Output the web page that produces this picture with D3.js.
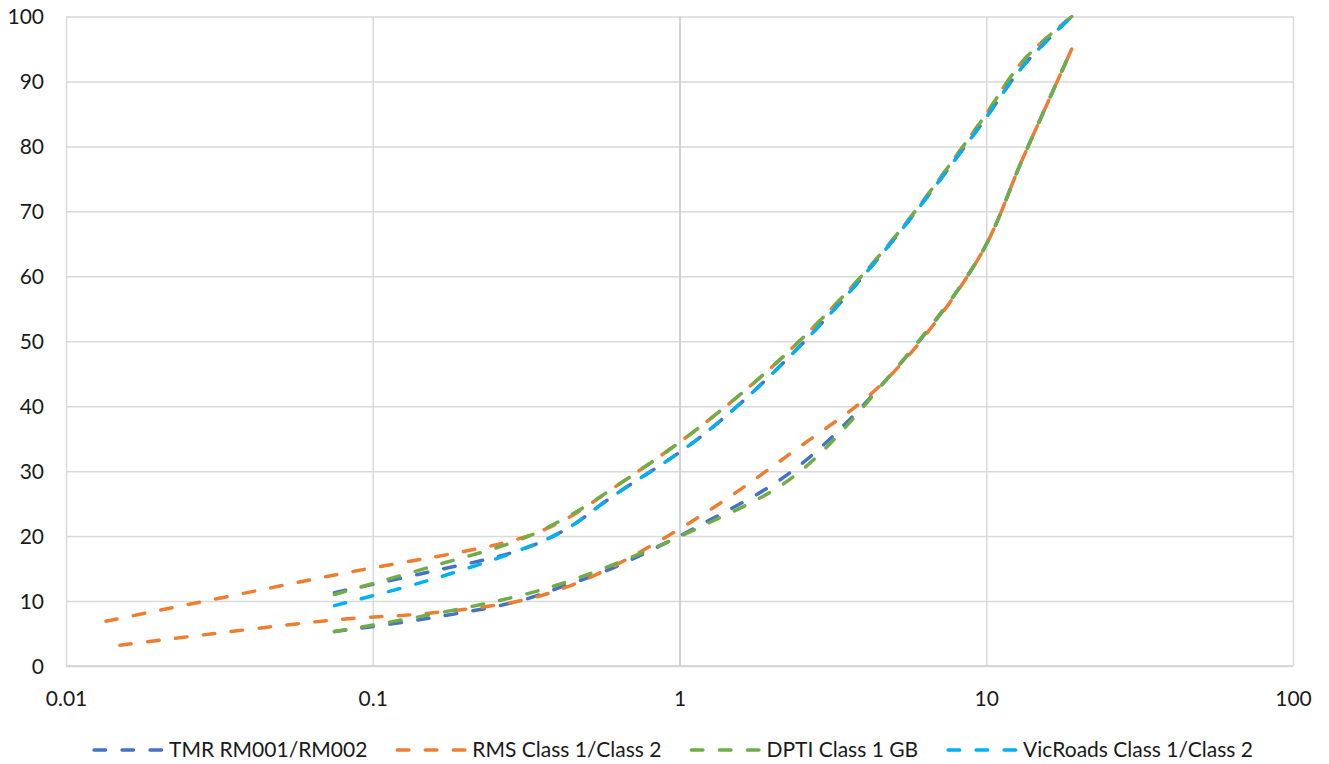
<!DOCTYPE html>
<html><head><meta charset="utf-8">
<script src="https://cdn.jsdelivr.net/npm/d3@7"></script>
<style>
body{margin:0;background:#fff}
text{font-family:Lato,'Open Sans',sans-serif}
</style>
</head><body>
<svg id="chart" width="1329" height="764"></svg>
<script>
// ---- data ----
const xTicks = [0.01, 0.1, 1, 10, 100];
const xTickLabels = ["0.01", "0.1", "1", "10", "100"];
const yTicks = [0, 10, 20, 30, 40, 50, 60, 70, 80, 90, 100];

const seriesNames = ["TMR RM001/RM002", "RMS Class 1/Class 2", "DPTI Class 1 GB", "VicRoads Class 1/Class 2"];
const seriesColors = ["#4472C4", "#ED7D31", "#70AD47", "#00B0F0"];

// sieve size (mm) and % passing
const tmrUpperSize = [0.075, 0.15, 0.3, 0.425, 0.6, 1.18, 2.36, 4.75, 9.5, 13.2, 19];
const tmrUpperPass = [11.3, 14.4, 17.8, 21.0, 26.0, 35.4, 48.3, 64.4, 83.0, 92.4, 100];
const tmrLowerSize = [0.075, 0.15, 0.3, 0.425, 0.6, 1.18, 2.36, 4.75, 9.5, 13.2, 19];
const tmrLowerPass = [5.3, 7.3, 10.0, 12.4, 15.0, 21.8, 30.2, 44.2, 63.0, 78.3, 95];

const rmsUpperSize = [0.0135, 0.075, 0.3, 0.425, 0.6, 1.18, 2.36, 4.75, 9.5, 13.2, 19];
const rmsUpperPass = [6.9, 14.0, 19.6, 22.6, 27.2, 37.0, 49.2, 64.6, 83.5, 93.2, 100];
const rmsLowerSize = [0.015, 0.075, 0.15, 0.3, 0.425, 0.6, 1.18, 2.36, 4.75, 9.5, 13.2, 19];
const rmsLowerPass = [3.2, 7.1, 8.1, 10.0, 12.1, 15.2, 23.2, 33.1, 44.2, 63.0, 78.3, 95];

const dptiUpperSize = [0.075, 0.15, 0.3, 0.425, 0.6, 1.18, 2.36, 4.75, 9.5, 13.2, 19];
const dptiUpperPass = [11.0, 15.1, 19.4, 22.8, 27.2, 37.0, 49.2, 64.6, 83.5, 93.2, 100];
const dptiLowerSize = [0.075, 0.15, 0.3, 0.425, 0.6, 1.18, 2.36, 4.75, 9.5, 13.2, 19];
const dptiLowerPass = [5.3, 7.8, 10.8, 12.9, 15.5, 21.5, 29.2, 44.2, 63.0, 78.3, 95];

const vicUpperSize = [0.075, 0.15, 0.3, 0.425, 0.6, 1.18, 2.36, 4.75, 9.5, 13.2, 19];
const vicUpperPass = [9.3, 13.1, 17.8, 21.0, 26.0, 35.4, 48.3, 64.4, 83.0, 92.4, 100];

// draw order: series index, sizes, values
const curves = [
  [0, tmrUpperSize, tmrUpperPass],
  [0, tmrLowerSize, tmrLowerPass],
  [1, rmsUpperSize, rmsUpperPass],
  [1, rmsLowerSize, rmsLowerPass],
  [2, dptiUpperSize, dptiUpperPass],
  [2, dptiLowerSize, dptiLowerPass],
  [3, vicUpperSize, vicUpperPass]
];

// ---- layout ----
const svg = d3.select("#chart");
const L = 66, R = 1293, T = 16.5, B = 666;
const x = d3.scaleLog().domain([0.01, 100]).range([L, R]);
const y = d3.scaleLinear().domain([0, 100]).range([B, T]);

// gridlines
const gy = svg.append("g").attr("transform", `translate(${L},0)`)
  .call(d3.axisLeft(y).tickValues(yTicks).tickSize(-(R - L)).tickFormat(""));
gy.select(".domain").remove();
gy.selectAll("line").attr("stroke", "#d9d9d9").attr("stroke-width", 1.5);

const gx = svg.append("g").attr("transform", `translate(0,${T})`)
  .call(d3.axisBottom(x).tickValues(xTicks).tickSize(B - T).tickFormat(""));
gx.select(".domain").remove();
gx.selectAll("line").attr("stroke", d => d === 1 ? "#c4c4c4" : "#d9d9d9").attr("stroke-width", 1.5);

// bottom axis line
svg.append("line").attr("x1", L).attr("x2", R).attr("y1", y(0)).attr("y2", y(0))
  .attr("stroke", "#d0d0d0").attr("stroke-width", 1.5);

// tick labels
const ay = svg.append("g").attr("transform", `translate(${L},0)`)
  .call(d3.axisLeft(y).tickValues(yTicks).tickSize(0).tickPadding(22));
ay.select(".domain").remove();
ay.selectAll("text").attr("font-size", 21).attr("fill", "#1a1a1a").attr("dy", "0.34em");

const ax = svg.append("g").attr("transform", `translate(0,${B})`)
  .call(d3.axisBottom(x).tickValues(xTicks).tickSize(0).tickPadding(25)
    .tickFormat((d, i) => xTickLabels[i]));
ax.select(".domain").remove();
ax.selectAll("text").attr("font-size", 21).attr("fill", "#1a1a1a");

// curves
const line = d3.line().x(d => x(d[0])).y(d => y(d[1])).curve(d3.curveCatmullRom.alpha(0.5));
const plot = svg.append("g");
curves.forEach(([si, sizes, vals]) => {
  plot.append("path")
    .attr("d", line(sizes.map((s, i) => [s, vals[i]])))
    .attr("fill", "none")
    .attr("stroke", seriesColors[si])
    .attr("stroke-width", 3.5)
    .attr("stroke-dasharray", "11.5 16.5")
    .attr("stroke-linecap", "round");
});

// legend
const lg = svg.append("g");
const items = seriesNames.map((name, i) => {
  const g = lg.append("g");
  g.append("line").attr("x1", 0).attr("x2", 69).attr("y1", 750).attr("y2", 750)
    .attr("stroke", seriesColors[i]).attr("stroke-width", 3.5)
    .attr("stroke-dasharray", "11.5 16.5").attr("stroke-linecap", "round");
  const t = g.append("text").attr("x", 75).attr("y", 757).attr("font-size", 21)
    .attr("fill", "#1a1a1a").text(name);
  return {g, w: 75 + t.node().getComputedTextLength()};
});
const gap = 30;
const total = d3.sum(items, d => d.w) + gap * (items.length - 1);
let cx = 672 - total / 2 + 1.5;
items.forEach(it => { it.g.attr("transform", `translate(${cx},0)`); cx += it.w + gap; });
</script>
</body></html>
